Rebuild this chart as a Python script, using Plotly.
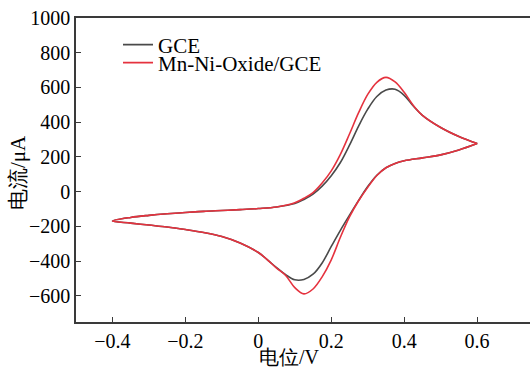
import plotly.graph_objects as go

# Cyclic voltammograms: forward (anodic) scan then reverse (cathodic) scan
fwd_potential = [-0.4, -0.35, -0.3, -0.25, -0.2, -0.15, -0.1, -0.05, 0.0, 0.05, 0.1,
                 0.125, 0.15, 0.175, 0.2, 0.225, 0.25, 0.275, 0.3, 0.325, 0.35,
                 0.375, 0.4, 0.425, 0.45, 0.5, 0.55, 0.6]
gce_fwd = [-169, -148, -136, -127, -120, -113, -108, -103, -97, -88, -68,
           -45, -14, 32, 92, 168, 268, 378, 475, 548, 585,
           590, 555, 493, 440, 370, 318, 277]
mno_fwd = [-169, -148, -136, -127, -120, -113, -108, -103, -97, -88, -64,
           -38, -5, 50, 120, 215, 332, 455, 560, 630, 658,
           632, 572, 497, 440, 370, 318, 277]

rev_potential = [0.6, 0.55, 0.5, 0.45, 0.4, 0.375, 0.35, 0.325, 0.3, 0.275, 0.25,
                 0.225, 0.2, 0.175, 0.15, 0.125, 0.1, 0.075, 0.05, 0.025, 0.0,
                 -0.05, -0.1, -0.15, -0.2, -0.25, -0.3, -0.35, -0.4]
gce_rev = [277, 240, 212, 195, 178, 163, 138, 95, 30, -50, -135,
           -222, -315, -410, -475, -505, -507, -478, -437, -392, -350,
           -295, -258, -235, -218, -203, -192, -181, -169]
mno_rev = [277, 240, 212, 195, 178, 163, 138, 93, 25, -52, -145,
           -262, -392, -490, -560, -588, -552, -482, -440, -392, -350,
           -295, -258, -235, -218, -203, -192, -181, -169]

x_ticks = [-0.4, -0.2, 0, 0.2, 0.4, 0.6]
y_ticks = [-600, -400, -200, 0, 200, 400, 600, 800, 1000]

series = [
    ("GCE", gce_fwd, gce_rev, "#4a4a4a", "legend"),
    ("Mn-Ni-Oxide/GCE", mno_fwd, mno_rev, "#e5323e", "legend2"),
]

fig = go.Figure()
for name, fwd, rev, color, leg in series:
    fig.add_trace(go.Scatter(
        x=fwd_potential + rev_potential,
        y=fwd + rev,
        mode="lines",
        name=name,
        legend=leg,
        line=dict(color=color, width=1.6, shape="spline", smoothing=1.0),
    ))

serif = "Liberation Serif"
axis_color = "#3a3a3a"
legend_common = dict(
    xanchor="left", yanchor="middle",
    bgcolor="rgba(0,0,0,0)", font=dict(family=serif, size=21),
    itemwidth=30,
)

fig.update_layout(
    width=530, height=367,
    margin=dict(l=76, r=0, t=18, b=45),
    paper_bgcolor="white", plot_bgcolor="white",
    font=dict(family=serif, size=20, color="black"),
    showlegend=True,
    legend=dict(x=(118 - 76) / 454, y=(322 - 45) / 304, **legend_common),
    legend2=dict(x=(118 - 76) / 454, y=(322 - 63) / 304, **legend_common),
    xaxis=dict(
        range=[-0.5, 0.745], tickvals=x_ticks,
        showgrid=False, zeroline=False,
        showline=True, linecolor=axis_color, linewidth=1.6, mirror=True,
        ticks="inside", ticklen=5, tickcolor=axis_color, tickwidth=1.2,
        tickfont=dict(family=serif, size=20),
    ),
    yaxis=dict(
        range=[-750, 1000], tickvals=y_ticks,
        showgrid=False, zeroline=False,
        showline=True, linecolor=axis_color, linewidth=1.6,
        ticks="inside", ticklen=5, tickcolor=axis_color, tickwidth=1.2,
        tickfont=dict(family=serif, size=20),
    ),
    annotations=[
        dict(text="电位/V", xref="paper", yref="paper",
             x=(289 - 76) / 454, y=-0.074, xanchor="center", yanchor="top",
             showarrow=False, font=dict(family=serif, size=20)),
        dict(text="电流/μA", xref="paper", yref="paper",
             x=-(76 - 18) / 454, y=0.49, xanchor="center", yanchor="middle",
             textangle=-90, showarrow=False, font=dict(family=serif, size=21)),
    ],
)

fig.write_html("out.html")
